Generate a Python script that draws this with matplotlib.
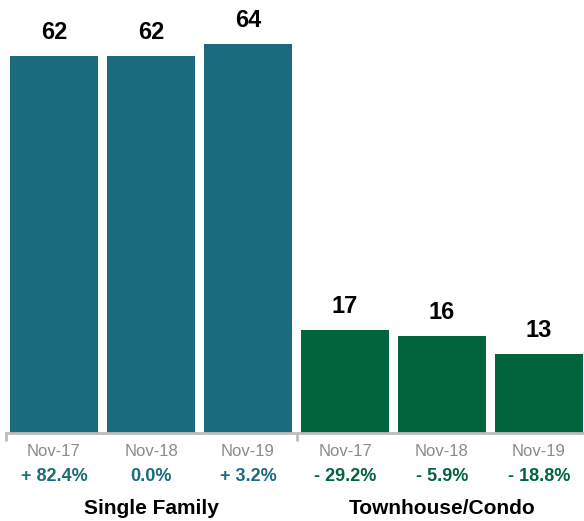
import matplotlib.pyplot as plt
import numpy as np

plt.rcParams['font.family'] = ['Liberation Sans', 'DejaVu Sans']

groups = ['Single Family', 'Townhouse/Condo']
months = ['Nov-17', 'Nov-18', 'Nov-19']
single_family = [62, 62, 64]
townhouse = [17, 16, 13]
sf_change = ['+ 82.4%', '0.0%', '+ 3.2%']
th_change = ['- 29.2%', '- 5.9%', '- 18.8%']

teal = '#1a6b7e'
green = '#00643c'

W, H = 584, 521
fig = plt.figure(figsize=(W / 100, H / 100), dpi=100)
# axes in pixel coords: left 5.5, right 587.5, bottom (from top) 433
ax = fig.add_axes([5.5 / W, (H - 433) / H, 582 / W, 400 / H])

values = single_family + townhouse
colors = [teal] * 3 + [green] * 3
x = np.arange(6)
ax.bar(x, values, width=88 / 97, color=colors)
ax.set_xlim(-0.5, 5.5)
ax.set_ylim(0, 400 / 6.08)
for s in ['top', 'right', 'left']:
    ax.spines[s].set_visible(False)
ax.spines['bottom'].set_color('#bdbdbd')
ax.spines['bottom'].set_linewidth(2)
ax.set_yticks([])
ax.set_xticks([-0.5, 2.5])
ax.set_xticklabels(['', ''])
ax.tick_params(axis='x', length=6, width=2, color='#bdbdbd')

for xi, v in zip(x, values):
    ax.annotate(str(v), (xi, v), xytext=(0, 17), textcoords='offset points',
                ha='center', va='center', fontsize=17, fontweight='bold', color='black')

changes = sf_change + th_change
labels = months + months
for xi, m, c, col in zip(x, labels, changes, colors):
    ax.annotate(m, (xi, 0), xytext=(0, -13.5), textcoords='offset points',
                ha='center', va='center', fontsize=12, color='#8a8a8a')
    ax.annotate(c, (xi, 0), xytext=(0, -31.5), textcoords='offset points',
                ha='center', va='center', fontsize=13, fontweight='bold', color=col)

for gi, g in enumerate(groups):
    ax.annotate(g, (1 + 3 * gi, 0), xytext=(0, -54), textcoords='offset points',
                ha='center', va='center', fontsize=15, fontweight='bold', color='black')

fig.savefig('out.png', dpi=100)
